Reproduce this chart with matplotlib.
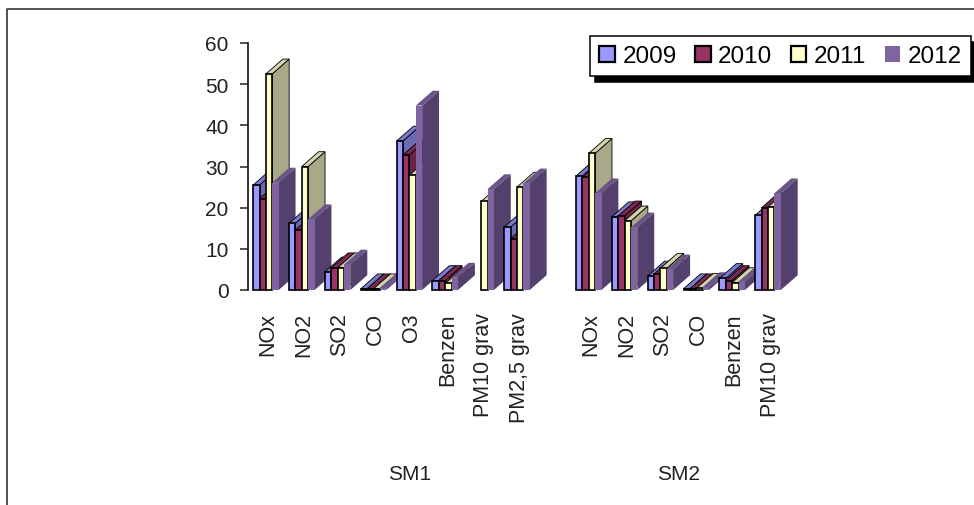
"""Air quality annual means per station and pollutant, drawn as pseudo-3D columns."""

import matplotlib.pyplot as plt
from matplotlib.lines import Line2D
from matplotlib.patches import Patch, Polygon
from matplotlib.transforms import ScaledTranslation

plt.rcParams["font.family"] = ["Liberation Sans", "DejaVu Sans"]

categories = ["NOx", "NO2", "SO2", "CO", "O3", "Benzen", "PM10 grav", "PM2,5 grav", "",
              "NOx", "NO2", "SO2", "CO", "Benzen", "PM10 grav"]
years = ["2009", "2010", "2011", "2012"]
y_ticks = [0, 10, 20, 30, 40, 50, 60]

v2009 = [25.5, 16.2, 4.4, 0.3, 36.2, 2.3, 0, 15.3, None, 27.7, 17.8, 3.4, 0.3, 2.8, 18.2]
v2010 = [22.2, 14.6, 5.4, 0.3, 32.8, 2.3, 0, 12.5, None, 27.5, 18.0, 3.9, 0.3, 2.3, 20.0]
v2011 = [52.5, 30.0, 5.4, 0.3, 27.9, 1.6, 21.5, 25.0, None, 33.2, 16.8, 5.3, 0.4, 1.8, 20.2]
v2012 = [26.1, 17.2, 6.2, 0.5, 44.8, 3.0, 24.5, 25.9, None, 23.5, 15.2, 5.0, 0.7, 2.0, 23.5]
series = [v2009, v2010, v2011, v2012]

groups = [("SM1", 4), ("SM2", 11.5)]

# front, top and side shades per series
front = ["#9999ff", "#993366", "#ffffcc", "#8064a2"]
top = ["#7a7acc", "#7a2952", "#d4d4aa", "#6a5488"]
side = ["#6b6bb3", "#6b2447", "#a9a98a", "#54406c"]
edges = ["black", "black", "black", "none"]

W, H = 974, 506
BAR_W = 0.178
DEPTH_X = 0.47   # category units
DEPTH_Y = 3.6    # value units

fig = plt.figure(figsize=(W / 100, H / 100), dpi=100)
ax = fig.add_axes([248 / W, 1 - 291 / H, 538 / W, 247 / H])
ax.set_xlim(-0.5, 14.5)
ax.set_ylim(0, 60)

z = 2
for i in range(len(categories)):
    for s, values in enumerate(series):
        v = values[i]
        if v is None or v == 0:
            continue
        x0 = i - 2 * BAR_W + s * BAR_W
        x1 = x0 + BAR_W
        lw = 1.2 if edges[s] != "none" else 0
        side_pts = [(x1, 0), (x1 + DEPTH_X, DEPTH_Y), (x1 + DEPTH_X, v + DEPTH_Y), (x1, v)]
        top_pts = [(x0, v), (x0 + DEPTH_X, v + DEPTH_Y), (x1 + DEPTH_X, v + DEPTH_Y), (x1, v)]
        ax.add_patch(Polygon(side_pts, facecolor=side[s], edgecolor=edges[s], lw=lw * 0.5,
                             zorder=z, clip_on=False))
        ax.add_patch(Polygon(top_pts, facecolor=top[s], edgecolor=edges[s], lw=lw * 0.5,
                             zorder=z, clip_on=False))
        ax.bar(x0, v, width=BAR_W, align="edge", facecolor=front[s], edgecolor=edges[s],
               linewidth=lw, zorder=z + 0.5, clip_on=False)
        z += 1

for name in ("top", "right", "bottom"):
    ax.spines[name].set_visible(False)
ax.spines["left"].set_linewidth(1.3)
ax.spines["left"].set_color("#222222")

ax.set_yticks(y_ticks)
ax.tick_params(axis="y", length=6, width=1.1, labelsize=15, pad=8, color="#222222",
               labelcolor="#222222")
ticks = [i for i, c in enumerate(categories) if c]
ax.set_xticks(ticks)
ax.set_xticklabels([categories[i] for i in ticks], rotation=90, fontsize=15.5, color="#222222")
ax.tick_params(axis="x", length=0, pad=16)

# nudge the rotated labels slightly to the right of the column groups
nudge = ScaledTranslation(2 / 100, 0, fig.dpi_scale_trans)
for label in ax.get_xticklabels():
    label.set_transform(label.get_transform() + nudge)

for name, pos in groups:
    ax.annotate(name, xy=(pos, 0), xycoords=("data", "axes fraction"), xytext=(0, -183),
                textcoords="offset pixels", ha="center", va="center", fontsize=15,
                color="#222222")

handles = [Patch(facecolor=front[s], edgecolor=edges[s], linewidth=1.6 if s < 3 else 0)
           for s in range(4)]
leg = fig.legend(handles, years, ncol=4, fontsize=17.5, loc="upper left",
                 bbox_to_anchor=(590 / W, 1 - 77 / H, 381 / W, 40 / H), mode="expand",
                 borderaxespad=0, fancybox=False, framealpha=1, edgecolor="black",
                 shadow={"color": "black", "alpha": 1, "ox": 3.4, "oy": -4},
                 handlelength=0.65, handleheight=0.65, handletextpad=0.3, columnspacing=0.8,
                 borderpad=0.38)
leg.get_frame().set_linewidth(1.1)

# outer chart frame, open on the right and at the bottom
fig.add_artist(Line2D([7 / W, 7 / W, 1], [0, 1 - 10 / H, 1 - 10 / H], color="#333333", lw=1.2))

fig.savefig("out.png", dpi=100)
plt.close(fig)
